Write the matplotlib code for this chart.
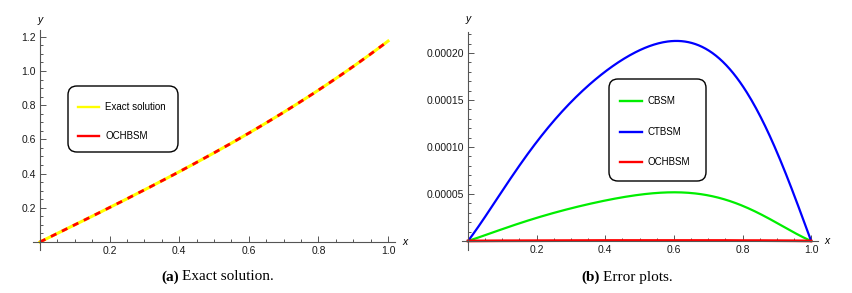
import numpy as np
import matplotlib.pyplot as plt
from matplotlib.patches import FancyBboxPatch
from matplotlib.lines import Line2D
from matplotlib.ticker import MultipleLocator, FixedLocator, FuncFormatter

plt.rcParams['font.family'] = ['Liberation Sans', 'DejaVu Sans']

# data
x_vals = [0.0, 0.1, 0.2, 0.3, 0.4, 0.5, 0.6, 0.7, 0.8, 0.9, 1.0]
exact = [0.0, 0.1002, 0.2013, 0.3045, 0.4108, 0.5211, 0.6367, 0.7586, 0.8881, 1.0265, 1.1752]
ochbsm = [0.0, 0.1002, 0.2013, 0.3045, 0.4108, 0.5211, 0.6367, 0.7586, 0.8881, 1.0265, 1.1752]

err_x = [0.0, 0.1, 0.2, 0.3, 0.4, 0.5, 0.55, 0.6, 0.65, 0.7, 0.75, 0.8, 0.85,
         0.9, 0.95, 1.0]
err_cbsm = [0.0, 0.0000124, 0.0000248, 0.0000348, 0.0000429, 0.0000490, 0.0000510,
            0.0000518, 0.0000512, 0.0000490, 0.0000440, 0.0000370, 0.0000285,
            0.0000195, 0.0000095, 0.0]
err_ctbsm = [0.0, 0.0000545, 0.000104, 0.000147, 0.000182, 0.000203, 0.000210,
             0.000212, 0.000210, 0.000202, 0.000188, 0.000167, 0.000135,
             0.0000936, 0.000048, 0.0]
err_och = [0.0, 2e-7, 3e-7, 4e-7, 5e-7, 5e-7, 5e-7, 5e-7, 5e-7, 5e-7, 5e-7, 4e-7,
           4e-7, 3e-7, 2e-7, 0.0]

x_ticks = [0.2, 0.4, 0.6, 0.8, 1.0]
y_ticks_a = [0.2, 0.4, 0.6, 0.8, 1.0, 1.2]
y_ticks_b = [0.00005, 0.00010, 0.00015, 0.00020]

labels_a = ['Exact solution', 'OCHBSM']
colors_a = ['#ffff00', '#ff0000']
labels_b = ['CBSM', 'CTBSM', 'OCHBSM']
colors_b = ['#00ee00', '#0000ff', '#ff0000']


def smooth(xs, ys, deg=6, n=300):
    # least-squares smoothing of the read points, ends kept
    xs = np.asarray(xs, float)
    ys = np.asarray(ys, float)
    w = np.ones(len(xs))
    w[0] = w[-1] = 20
    coefs = np.polyfit(xs, ys, deg, w=w)
    xf = np.linspace(xs[0], xs[-1], n)
    yf = np.polyval(coefs, xf)
    yf[0] = ys[0]
    yf[-1] = ys[-1]
    return xf, yf


axis_col = '#555555'


def style_axes(ax, yticks, yminor, fmt):
    for s in ['top', 'right']:
        ax.spines[s].set_visible(False)
    ax.spines['left'].set_position(('data', 0))
    ax.spines['bottom'].set_position(('data', 0))
    for s in ['left', 'bottom']:
        ax.spines[s].set_color(axis_col)
        ax.spines[s].set_linewidth(0.8)
    ax.xaxis.set_major_locator(FixedLocator(x_ticks))
    ax.xaxis.set_minor_locator(MultipleLocator(0.05))
    ax.yaxis.set_major_locator(FixedLocator(yticks))
    ax.yaxis.set_minor_locator(MultipleLocator(yminor))
    ax.xaxis.set_major_formatter(FuncFormatter(lambda v, p: '%.1f' % v))
    ax.yaxis.set_major_formatter(FuncFormatter(fmt))
    ax.tick_params(which='both', direction='in', color=axis_col, labelsize=7.5,
                   labelcolor='#1a1a1a', width=0.7)
    ax.tick_params(which='major', length=4, pad=3)
    ax.tick_params(which='minor', length=2.2)
    ax.patch.set_visible(False)


def px(x, y):
    return x / 852, 1 - y / 293


def draw_legend(box, rows, line_x, text_x, labels, colors):
    x0, y0, x1, y1 = box
    fx0, fy1 = px(x0, y1)
    fx1, fy0 = px(x1, y0)
    fig.patches.append(FancyBboxPatch(
        (fx0, fy1), fx1 - fx0, fy0 - fy1, transform=fig.transFigure,
        boxstyle='round,pad=0,rounding_size=0.0105', mutation_aspect=852 / 293,
        facecolor='white', edgecolor='black', lw=1.0, zorder=5))
    for ry, lab, col in zip(rows, labels, colors):
        a, yy = px(line_x[0], ry)
        b, _ = px(line_x[1], ry)
        fig.lines.append(Line2D([a, b], [yy, yy], transform=fig.transFigure,
                                color=col, lw=1.7, zorder=6))
        tx, ty = px(text_x, ry)
        fig.text(tx, ty, lab, fontsize=7, ha='left', va='center', zorder=6)


fig = plt.figure(figsize=(8.52, 2.93), dpi=100)

# (a) exact solution
ax1 = fig.add_axes([33 / 852, 43 / 293, 362 / 852, 220 / 293])
ax1.set_xlim(-0.02, 1.02)
ax1.set_ylim(-0.047, 1.24)
xf, yf = smooth(x_vals, exact, deg=4)
ax1.plot(xf, yf, color=colors_a[0], lw=2.2)
xf, yf = smooth(x_vals, ochbsm, deg=4)
ax1.plot(xf, yf, color=colors_a[1], lw=2.0, dashes=(2.2, 2.2))
style_axes(ax1, y_ticks_a, 0.05, lambda v, p: '%.1f' % v)
ax1.text(1.04, 0, 'x', style='italic', fontsize=7.5, va='center', ha='left',
         clip_on=False)
ax1.text(0, 1.30, 'y', style='italic', fontsize=7.5, va='center', ha='center',
         clip_on=False)
draw_legend((68, 86, 178, 152), [107, 136], (78, 99), 105, labels_a, colors_a)

# (b) error plots
ax2 = fig.add_axes([462 / 852, 43 / 293, 356 / 852, 218 / 293])
ax2.set_xlim(-0.0175, 1.02)
ax2.set_ylim(-0.0000096, 0.0002223)
xf, yf = smooth(err_x, err_cbsm)
ax2.plot(xf, yf, color=colors_b[0], lw=1.6)
xf, yf = smooth(err_x, err_ctbsm)
ax2.plot(xf, yf, color=colors_b[1], lw=1.6)
ax2.plot(err_x, err_och, color=colors_b[2], lw=2.0)
style_axes(ax2, y_ticks_b, 0.00001, lambda v, p: '%.5f' % v)
ax2.text(1.04, 0, 'x', style='italic', fontsize=7.5, va='center', ha='left',
         clip_on=False)
ax2.text(0, 0.000236, 'y', style='italic', fontsize=7.5, va='center', ha='center',
         clip_on=False)
draw_legend((609, 79, 706, 181), [101, 132, 162], (620, 642), 647, labels_b, colors_b)

# captions
serif = 'Liberation Serif'
fig.text(*px(179, 277), '(a)', fontsize=11, ha='right', va='center',
         family=serif, weight='bold')
fig.text(*px(182, 277), 'Exact solution.', fontsize=11, ha='left', va='center',
         family=serif)
fig.text(*px(600, 277), '(b)', fontsize=11, ha='right', va='center',
         family=serif, weight='bold')
fig.text(*px(603, 277), 'Error plots.', fontsize=11, ha='left', va='center',
         family=serif)

fig.savefig('out.png', dpi=100)
